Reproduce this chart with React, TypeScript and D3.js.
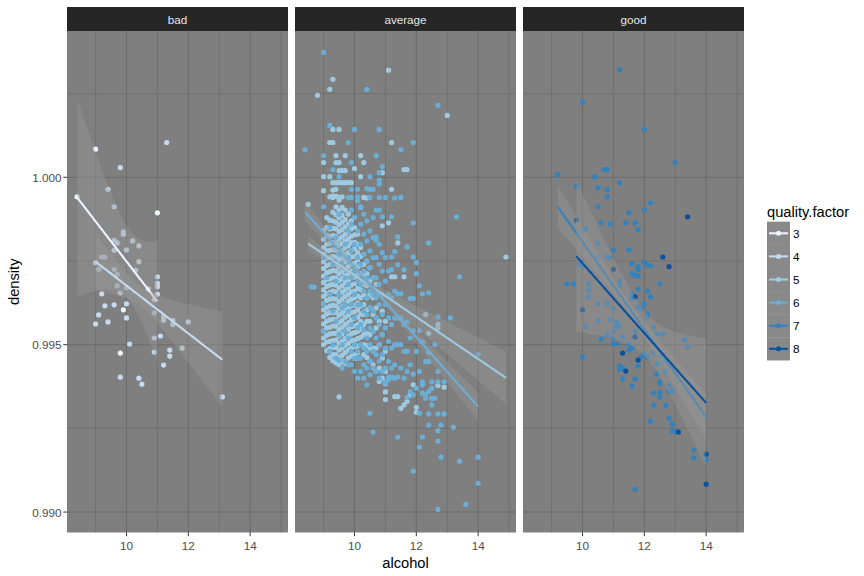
import React from "react";
import * as d3 from "d3";

// ---------------- data ----------------
const PANELS = ["bad", "average", "good"];
const QUALITIES = [3, 4, 5, 6, 7, 8];
const QUALITY_PANEL = ["bad", "bad", "average", "average", "good", "good"];
const COLORS = ["#EFF3FF", "#C6DBEF", "#9ECAE1", "#6BAED6", "#3182BD", "#08519C"];
const X_TICKS = [10, 12, 14];
const X_MINOR = [9, 11, 13, 15];
const Y_TICKS = [0.99, 0.995, 1.0];
const Y_TICK_LABELS = ["0.990", "0.995", "1.000"];
const Y_MINOR = [0.9925, 0.9975, 1.0025];
const X_RANGE = [8.4, 14.9];
const Y_RANGE = [0.99007, 1.00369];

// points: [alcohol, density × 100000]
const q3Points: [number, number][] = [
  [8.4, 99942], [9.0, 100084], [11.0, 99894], [10.7, 99666], [10.9, 99635], [9.9, 99604], [9.8, 99475],
];
const q4Points: [number, number][] = [
  [11.3, 100104], [9.8, 100029], [9.4, 99964], [9.6, 99912], [9.9, 99837], [9.9, 99830], [9.6, 99812],
  [9.7, 99804], [9.6, 99782], [10.2, 99810], [10.4, 99795], [10.0, 99783], [9.2, 99762], [9.3, 99762],
  [9.0, 99745], [9.1, 99725], [9.6, 99725], [10.4, 99748], [10.3, 99722], [9.7, 99710], [11.0, 99703],
  [11.0, 99683], [11.0, 99673], [9.7, 99676], [10.0, 99670], [9.8, 99655], [11.0, 99651], [9.2, 99652],
  [9.3, 99616], [9.6, 99619], [10.0, 99622], [9.1, 99589], [10.0, 99580], [10.9, 99595], [11.2, 99583],
  [11.2, 99573], [11.5, 99573], [11.5, 99560], [12.0, 99568], [9.0, 99562], [9.4, 99568], [10.1, 99502],
  [11.1, 99526], [10.9, 99520], [11.8, 99490], [10.9, 99478], [11.4, 99484], [11.4, 99466], [11.2, 99439],
  [9.8, 99403], [10.4, 99400], [10.5, 99382], [13.1, 99344],
];
const q5Columns: [number, number[]][] = [
  [9.0, [99960, 99842, 99815, 99790, 99770, 99748, 99728, 99705, 99686, 99664, 99645, 99622, 99604, 99584, 99562, 99541, 99520, 99500]],
  [9.1, [99880, 99850, 99826, 99800, 99780, 99758, 99736, 99715, 99695, 99674, 99652, 99632, 99610, 99592, 99570, 99550, 99528, 99508, 99482]],
  [9.2, [99942, 99872, 99846, 99824, 99802, 99782, 99760, 99740, 99718, 99696, 99678, 99656, 99636, 99615, 99596, 99574, 99552, 99532, 99510, 99488, 99462]],
  [9.3, [99962, 99944, 99896, 99870, 99848, 99826, 99806, 99784, 99764, 99742, 99722, 99700, 99680, 99660, 99638, 99618, 99596, 99576, 99556, 99534, 99512, 99492, 99470, 99452]],
  [9.4, [99964, 99944, 99912, 99888, 99866, 99846, 99824, 99804, 99782, 99762, 99740, 99720, 99700, 99678, 99658, 99636, 99616, 99596, 99575, 99555, 99534, 99514, 99492, 99470, 99446]],
  [9.5, [99932, 99902, 99880, 99858, 99838, 99816, 99796, 99774, 99754, 99732, 99712, 99692, 99670, 99650, 99628, 99608, 99588, 99566, 99546, 99526, 99504, 99484, 99462, 99440]],
  [9.6, [99910, 99886, 99866, 99844, 99822, 99802, 99780, 99760, 99740, 99718, 99698, 99676, 99656, 99636, 99614, 99594, 99572, 99552, 99532, 99510, 99490, 99468, 99450]],
  [9.7, [99902, 99874, 99852, 99830, 99810, 99790, 99768, 99748, 99726, 99706, 99686, 99664, 99644, 99622, 99602, 99582, 99560, 99540, 99518, 99498, 99476, 99444]],
  [9.8, [99890, 99860, 99838, 99816, 99796, 99774, 99754, 99734, 99712, 99692, 99670, 99650, 99630, 99608, 99588, 99566, 99546, 99526, 99504, 99484, 99460]],
  [9.9, [99870, 99846, 99824, 99804, 99782, 99762, 99740, 99720, 99700, 99678, 99658, 99636, 99616, 99596, 99574, 99554, 99532, 99512, 99490, 99466]],
  [10.0, [99850, 99828, 99806, 99786, 99764, 99744, 99722, 99702, 99682, 99660, 99640, 99618, 99598, 99578, 99556, 99536, 99514, 99494, 99470]],
  [10.1, [99830, 99800, 99776, 99754, 99732, 99710, 99690, 99668, 99646, 99624, 99604, 99582, 99560, 99540, 99518, 99496, 99476]],
  [10.2, [99910, 99790, 99764, 99738, 99712, 99688, 99664, 99640, 99616, 99592, 99570, 99546, 99522, 99500]],
  [10.3, [99770, 99740, 99710, 99680, 99650, 99620, 99590, 99560, 99530, 99500, 99470]],
  [10.4, [99750, 99712, 99676, 99640, 99604, 99570, 99534, 99498, 99462]],
  [10.5, [99730, 99690, 99650, 99610, 99570, 99530, 99490, 99450]],
  [10.6, [99700, 99640, 99590, 99540, 99490, 99440]],
  [10.7, [99680, 99610, 99550, 99490, 99420]],
  [10.8, [99650, 99570, 99500, 99430, 99390]],
  [10.9, [99600, 99530, 99460, 99400]],
  [11.0, [99570, 99480, 99420, 99383]],
];
const q5Points: [number, number][] = [
  [8.5, 99919], [8.8, 100245], [9.0, 100044], [9.0, 100002], [9.2, 100263], [9.2, 100104], [9.2, 100002],
  [9.3, 100293], [9.3, 100143], [9.3, 100104], [9.3, 99984], [9.4, 100065], [9.4, 100044], [9.4, 99984],
  [9.5, 100143], [9.5, 100044], [9.5, 100020], [9.5, 99984], [9.5, 99344], [9.6, 100020], [9.6, 99984],
  [9.7, 100065], [9.7, 100020], [9.7, 99984], [9.8, 99984], [9.9, 99984], [10.0, 100026], [10.2, 100065],
  [10.2, 100002], [10.3, 100044], [10.9, 100014], [10.9, 99855], [11.1, 100320], [11.1, 99864],
  [11.2, 100104], [11.2, 99964], [11.2, 99703], [11.3, 99703], [11.4, 99804], [11.6, 100023],
  [11.7, 100023], [11.6, 99703], [12.3, 99590], [12.7, 99561], [12.7, 99550], [13.0, 100185],
  [14.9, 99762], [12.4, 99534], [9.3, 99940], [9.5, 99940], [9.6, 99942], [10.3, 99940], [10.4, 99938],
  [11.0, 99359], [11.0, 99336], [11.3, 99345], [11.4, 99345], [11.5, 99310], [11.6, 99320], [11.7, 99330],
  [11.8, 99350], [11.9, 99380], [12.0, 99313], [12.0, 99298], [12.7, 99378], [12.9, 99373],
];
const q6Columns: [number, number[]][] = [
  [9.0, [99760, 99540]],
  [9.1, [99700]],
  [9.2, [99850, 99650, 99480]],
  [9.3, [99740, 99600, 99500]],
  [9.4, [99820, 99690, 99570, 99460]],
  [9.5, [99890, 99770, 99650, 99530]],
  [9.6, [99740, 99610, 99500, 99430]],
  [9.7, [99800, 99700, 99620, 99540, 99450]],
  [9.8, [99940, 99840, 99760, 99680, 99600, 99520]],
  [9.9, [99860, 99780, 99700, 99620, 99560, 99480]],
  [10.0, [99880, 99800, 99720, 99650, 99580, 99500, 99420]],
  [10.1, [99930, 99840, 99760, 99690, 99620, 99550, 99480, 99400]],
  [10.2, [99911, 99860, 99800, 99740, 99680, 99620, 99560, 99500, 99460, 99420]],
  [10.3, [99890, 99830, 99770, 99720, 99660, 99600, 99545, 99490, 99440, 99400]],
  [10.4, [99870, 99810, 99750, 99700, 99640, 99590, 99520, 99480, 99430, 99380]],
  [10.5, [99840, 99780, 99730, 99660, 99610, 99550, 99500, 99450, 99410]],
  [10.6, [99880, 99820, 99760, 99700, 99650, 99600, 99540, 99480, 99430]],
  [10.7, [99760, 99700, 99640, 99580, 99520, 99470, 99420]],
  [10.8, [99800, 99740, 99680, 99620, 99560, 99500, 99451, 99400]],
  [10.9, [99720, 99650, 99590, 99530, 99470, 99420]],
  [11.0, [99760, 99690, 99620, 99550, 99490, 99430, 99390]],
  [11.1, [99720, 99650, 99580, 99510, 99450, 99404]],
  [11.2, [99640, 99560, 99490, 99430, 99404]],
  [11.3, [99660, 99580, 99500, 99440, 99400]],
  [11.4, [99580, 99500, 99404]],
  [11.5, [99580, 99500, 99430]],
  [11.6, [99560, 99480, 99400]],
  [11.7, [99480, 99420, 99343]],
  [11.8, [99520, 99440, 99360]],
  [11.9, [99350]],
  [12.0, [99480, 99370]],
  [12.1, [99420]],
  [12.3, [99450, 99350]],
  [12.5, [99340, 99320]],
  [12.6, [99340]],
];
const q6Points: [number, number][] = [
  [9.0, 100373], [10.4, 100263], [12.7, 100215], [9.2, 100155], [10.0, 100143], [10.8, 100143], [9.8, 100104],
  [11.9, 100104], [8.4, 100083], [11.5, 100083], [9.0, 100065], [10.7, 100065], [9.9, 100044], [10.9, 100032],
  [9.3, 100023], [10.8, 100014], [9.5, 100002], [10.5, 100002], [10.8, 99992], [10.8, 99980], [9.9, 99964],
  [10.1, 99964], [10.4, 99966], [10.5, 99964], [10.6, 99964], [9.9, 99940], [10.1, 99942], [10.5, 99940],
  [10.8, 99940], [11.0, 99940], [11.3, 99938], [11.5, 99940],
  [9.0, 99912], [9.9, 99902], [10.2, 99911], [10.7, 99902], [10.8, 99902], [10.9, 99882], [11.2, 99882],
  [13.3, 99882], [11.9, 99864], [10.7, 99822], [10.7, 99812], [11.4, 99822], [12.4, 99804], [10.9, 99775],
  [11.3, 99778], [11.2, 99762], [11.7, 99792], [11.9, 99762], [12.0, 99745], [11.4, 99739], [11.2, 99724],
  [11.6, 99724], [12.0, 99712], [13.4, 99703], [8.6, 99673], [8.7, 99672], [12.1, 99676], [11.4, 99652],
  [11.5, 99652], [12.2, 99652], [12.4, 99655], [11.8, 99638], [11.9, 99638], [9.0, 99622], [12.7, 99583],
  [13.1, 99580], [11.7, 99568], [11.9, 99542], [12.1, 99542], [12.2, 99508], [12.6, 99501], [14.0, 99472],
  [12.4, 99478], [12.4, 99450], [12.7, 99420], [11.9, 99412], [12.2, 99389], [12.5, 99389], [12.7, 99389],
  [12.9, 99389], [9.5, 99453], [9.8, 99440], [9.9, 99440], [10.0, 99459], [10.1, 99459], [11.0, 99385],
  [11.1, 99395], [12.2, 99380], [12.2, 99355], [12.3, 99340], [12.4, 99360], [12.5, 99370], [12.5, 99340],
  [10.5, 99295], [12.1, 99295], [12.4, 99293], [12.7, 99293], [12.9, 99293], [12.4, 99260], [12.8, 99260],
  [12.7, 99243], [13.2, 99253], [10.6, 99239], [11.4, 99224], [12.2, 99224], [12.7, 99212], [12.1, 99194],
  [12.8, 99164], [13.4, 99152], [14.0, 99164], [11.9, 99122], [14.0, 99086], [13.6, 99023], [12.7, 99008],
];
const q7Points: [number, number][] = [
  [11.2, 100322], [10.0, 100224], [12.0, 100143], [13.0, 100044], [9.2, 100008], [10.4, 100002], [10.7, 100023],
  [10.8, 100023], [11.2, 99984], [9.8, 99972], [10.5, 99969], [10.8, 99963], [10.8, 99942], [10.5, 99912],
  [12.2, 99924], [11.5, 99894], [12.0, 99903], [10.6, 99864], [10.9, 99861], [11.4, 99864], [11.7, 99864],
  [11.8, 99843], [10.0, 99840], [10.1, 99845], [10.5, 99804], [11.0, 99783], [11.5, 99783], [10.5, 99762],
  [10.8, 99762], [10.9, 99762], [11.6, 99742], [12.0, 99745], [12.1, 99738], [12.2, 99735], [11.8, 99733],
  [11.8, 99724], [11.6, 99712], [11.7, 99706], [11.8, 99706], [9.9, 99742], [10.0, 99735], [9.5, 99682],
  [9.7, 99682], [10.2, 99682], [10.2, 99664], [10.2, 99643], [11.2, 99690], [11.2, 99678], [11.8, 99667],
  [12.1, 99661], [12.5, 99682], [12.2, 99643], [11.6, 99650], [11.6, 99638], [10.5, 99622], [10.8, 99622],
  [11.0, 99607], [11.8, 99613], [12.0, 99622], [11.9, 99607], [12.1, 99593], [12.1, 99584], [10.5, 99572],
  [10.9, 99575], [10.1, 99554], [11.1, 99568], [11.1, 99553], [11.2, 99556], [12.3, 99553], [10.8, 99529],
  [11.0, 99540], [11.0, 99520], [11.3, 99523], [11.7, 99540], [12.4, 99532], [12.6, 99532], [13.3, 99515],
  [13.4, 99494], [10.6, 99517], [11.0, 99502], [11.1, 99502], [11.5, 99502], [11.6, 99490], [11.5, 99484],
  [12.0, 99472], [12.1, 99463], [11.9, 99463], [12.3, 99475], [12.5, 99466], [12.6, 99448], [10.0, 99463],
  [11.2, 99436], [11.2, 99426], [11.3, 99430], [11.8, 99436], [12.4, 99442], [12.4, 99412], [12.7, 99424],
  [12.7, 99418], [11.3, 99398], [11.7, 99398], [12.5, 99389], [12.8, 99380], [12.9, 99360], [12.8, 99360],
  [11.6, 99376], [12.3, 99356], [12.5, 99358], [12.5, 99344], [12.5, 99385], [12.9, 99365], [12.3, 99319],
  [12.7, 99319], [12.2, 99271], [12.8, 99280], [12.9, 99262], [12.9, 99242], [13.0, 99242], [13.6, 99185],
  [13.6, 99161], [14.0, 99158], [11.7, 99068],
];
const q8Points: [number, number][] = [
  [13.4, 99882], [12.6, 99762], [12.8, 99733], [9.8, 99872], [11.0, 99725], [11.7, 99643], [10.0, 99604],
  [11.7, 99523], [11.3, 99475], [11.8, 99454], [11.4, 99421], [13.1, 99239], [14.0, 99173], [14.0, 99083],
];

// linear fits (geom_smooth, method = "lm")
const FIT_X_MIN = [8.4, 9.0, 8.5, 8.4, 9.2, 9.8];
const FIT_X_MAX = [11.0, 13.1, 14.9, 14.0, 14.0, 14.0];
const FIT_Y_START = [0.9994, 0.99748, 0.99802, 0.99897, 0.99912, 0.99764];
const FIT_Y_END = [0.99629, 0.99455, 0.99401, 0.99315, 0.99284, 0.99326];
// confidence band half-widths: narrowest, at left end, at right end
const BAND_MIN = [0.00105, 0.0003, 0.000075, 0.00009, 0.00018, 0.00066];
const BAND_LEFT = [0.00296, 0.00084, 0.00024, 0.0003, 0.00063, 0.00225];
const BAND_RIGHT = [0.0018, 0.00144, 0.00078, 0.00042, 0.00069, 0.00192];

// ---------------- layout ----------------
const W = 864;
const H = 576;
const PANEL_LEFT = [67, 295, 523];
const PANEL_W = 221;
const PANEL_TOP = 31;
const PANEL_BOTTOM = 532.5;
const STRIP_TOP = 7;
const FONT = "'Liberation Sans', Arial, Helvetica, sans-serif";

function expand(r: number[]) {
  const d = (r[1] - r[0]) * 0.05;
  return [r[0] - d, r[1] + d];
}

const toPairs = (cols: [number, number[]][]): [number, number][] =>
  cols.flatMap(([a, ds]) => ds.map((d) => [a, d] as [number, number]));

const POINTS_BY_QUALITY: [number, number][][] = [
  q3Points,
  q4Points,
  [...toPairs(q5Columns), ...q5Points],
  [...toPairs(q6Columns), ...q6Points],
  q7Points,
  q8Points,
];

export default function App() {
  const yScale = d3.scaleLinear().domain(expand(Y_RANGE)).range([PANEL_BOTTOM, PANEL_TOP]);
  const xScales = PANEL_LEFT.map((l) =>
    d3.scaleLinear().domain(expand(X_RANGE)).range([l, l + PANEL_W])
  );
  const gridColor = "#6b6b6b";

  return (
    <svg
      width={W}
      height={H}
      style={{ position: "absolute", left: 0, top: 0, background: "#ffffff" }}
      fontFamily={FONT}
    >
      <rect x={0} y={0} width={W} height={H} fill="#ffffff" />
      {PANELS.map((p, pi) => {
        const x = xScales[pi];
        const left = PANEL_LEFT[pi];
        const qIdx = QUALITIES.map((_, i) => i).filter((i) => QUALITY_PANEL[i] === p);
        return (
          <g key={p}>
            <rect x={left} y={PANEL_TOP} width={PANEL_W} height={PANEL_BOTTOM - PANEL_TOP} fill="#7f7f7f" />
            {X_MINOR.map((v) => (
              <line key={"xm" + v} x1={x(v)} x2={x(v)} y1={PANEL_TOP} y2={PANEL_BOTTOM} stroke={gridColor} strokeWidth={0.7} />
            ))}
            {Y_MINOR.map((v) => (
              <line key={"ym" + v} x1={left} x2={left + PANEL_W} y1={yScale(v)} y2={yScale(v)} stroke={gridColor} strokeWidth={0.7} />
            ))}
            {X_TICKS.map((v) => (
              <line key={"xM" + v} x1={x(v)} x2={x(v)} y1={PANEL_TOP} y2={PANEL_BOTTOM} stroke={gridColor} strokeWidth={1.1} />
            ))}
            {Y_TICKS.map((v) => (
              <line key={"yM" + v} x1={left} x2={left + PANEL_W} y1={yScale(v)} y2={yScale(v)} stroke={gridColor} strokeWidth={1.1} />
            ))}
            {/* points */}
            {qIdx.map((qi) => (
              <g key={"pts" + qi}>
                {POINTS_BY_QUALITY[qi].map(([a, d], k) => (
                  <circle key={k} cx={x(a)} cy={yScale(d / 100000)} r={2.6} fill={COLORS[qi]} />
                ))}
              </g>
            ))}
            {/* smooth ribbons + lines */}
            {qIdx.map((qi) => {
              const x0 = FIT_X_MIN[qi];
              const x1 = FIT_X_MAX[qi];
              const c = BAND_MIN[qi];
              const sl = Math.sqrt(Math.max(BAND_LEFT[qi] ** 2 - c * c, 0));
              const sr = Math.sqrt(Math.max(BAND_RIGHT[qi] ** 2 - c * c, 0));
              const sk = (sl + sr) / (x1 - x0);
              const m = x0 + sl / sk;
              const fitY = d3.scaleLinear().domain([x0, x1]).range([FIT_Y_START[qi], FIT_Y_END[qi]]);
              const xs = d3.range(0, 81).map((i) => x0 + ((x1 - x0) * i) / 80);
              const hw = (v: number) => Math.sqrt(c * c + sk * sk * (v - m) * (v - m));
              const area = d3
                .area<number>()
                .x((v) => x(v))
                .y0((v) => yScale(fitY(v) - hw(v)))
                .y1((v) => yScale(fitY(v) + hw(v)));
              const line = d3
                .line<number>()
                .x((v) => x(v))
                .y((v) => yScale(fitY(v)));
              return (
                <g key={"fit" + qi}>
                  <path d={area(xs) || ""} fill="#999999" fillOpacity={0.4} />
                  <path d={line(xs) || ""} fill="none" stroke={COLORS[qi]} strokeWidth={2.1} />
                </g>
              );
            })}
            {/* strip */}
            <rect x={left} y={STRIP_TOP} width={PANEL_W} height={PANEL_TOP - STRIP_TOP} fill="#262626" />
            <text x={left + PANEL_W / 2} y={(STRIP_TOP + PANEL_TOP) / 2} textAnchor="middle" dominantBaseline="central" fontSize={11.7} fill="#e5e5e5">
              {p}
            </text>
            {/* x axis */}
            {X_TICKS.map((v) => (
              <g key={"xt" + v}>
                <line x1={x(v)} x2={x(v)} y1={PANEL_BOTTOM} y2={PANEL_BOTTOM + 3.7} stroke="#333333" strokeWidth={1} />
                <text x={x(v)} y={PANEL_BOTTOM + 13} textAnchor="middle" dominantBaseline="central" fontSize={11.7} fill="#4d4d4d">
                  {v}
                </text>
              </g>
            ))}
          </g>
        );
      })}
      {/* y axis */}
      {Y_TICKS.map((v, i) => (
        <g key={"yt" + v}>
          <line x1={PANEL_LEFT[0] - 3.7} x2={PANEL_LEFT[0]} y1={yScale(v)} y2={yScale(v)} stroke="#333333" strokeWidth={1} />
          <text x={PANEL_LEFT[0] - 5.5} y={yScale(v)} textAnchor="end" dominantBaseline="central" fontSize={11.7} fill="#4d4d4d">
            {Y_TICK_LABELS[i]}
          </text>
        </g>
      ))}
      <text x={PANEL_LEFT[1] + PANEL_W / 2} y={568} textAnchor="middle" fontSize={14.7} fill="#000000">
        alcohol
      </text>
      <text transform={`translate(19, ${(PANEL_TOP + PANEL_BOTTOM) / 2}) rotate(-90)`} textAnchor="middle" fontSize={14.7} fill="#000000">
        density
      </text>
      {/* legend */}
      <text x={767} y={216.5} fontSize={14.7} fill="#000000">
        quality.factor
      </text>
      {QUALITIES.map((q, i) => {
        const cy = 233.3 + 23.1 * i;
        return (
          <g key={"lg" + q}>
            <rect x={767} y={cy - 11.55} width={23} height={23.1} fill="#7f7f7f" />
            <rect x={767} y={cy - 11.55} width={23} height={23.1} fill="#999999" fillOpacity={0.4} />
            <line x1={769} x2={788} y1={cy} y2={cy} stroke={COLORS[i]} strokeWidth={2.1} />
            <circle cx={778.5} cy={cy} r={2.5} fill={COLORS[i]} />
            <text x={793} y={cy} dominantBaseline="central" fontSize={11.7} fill="#000000">
              {q}
            </text>
          </g>
        );
      })}
    </svg>
  );
}
